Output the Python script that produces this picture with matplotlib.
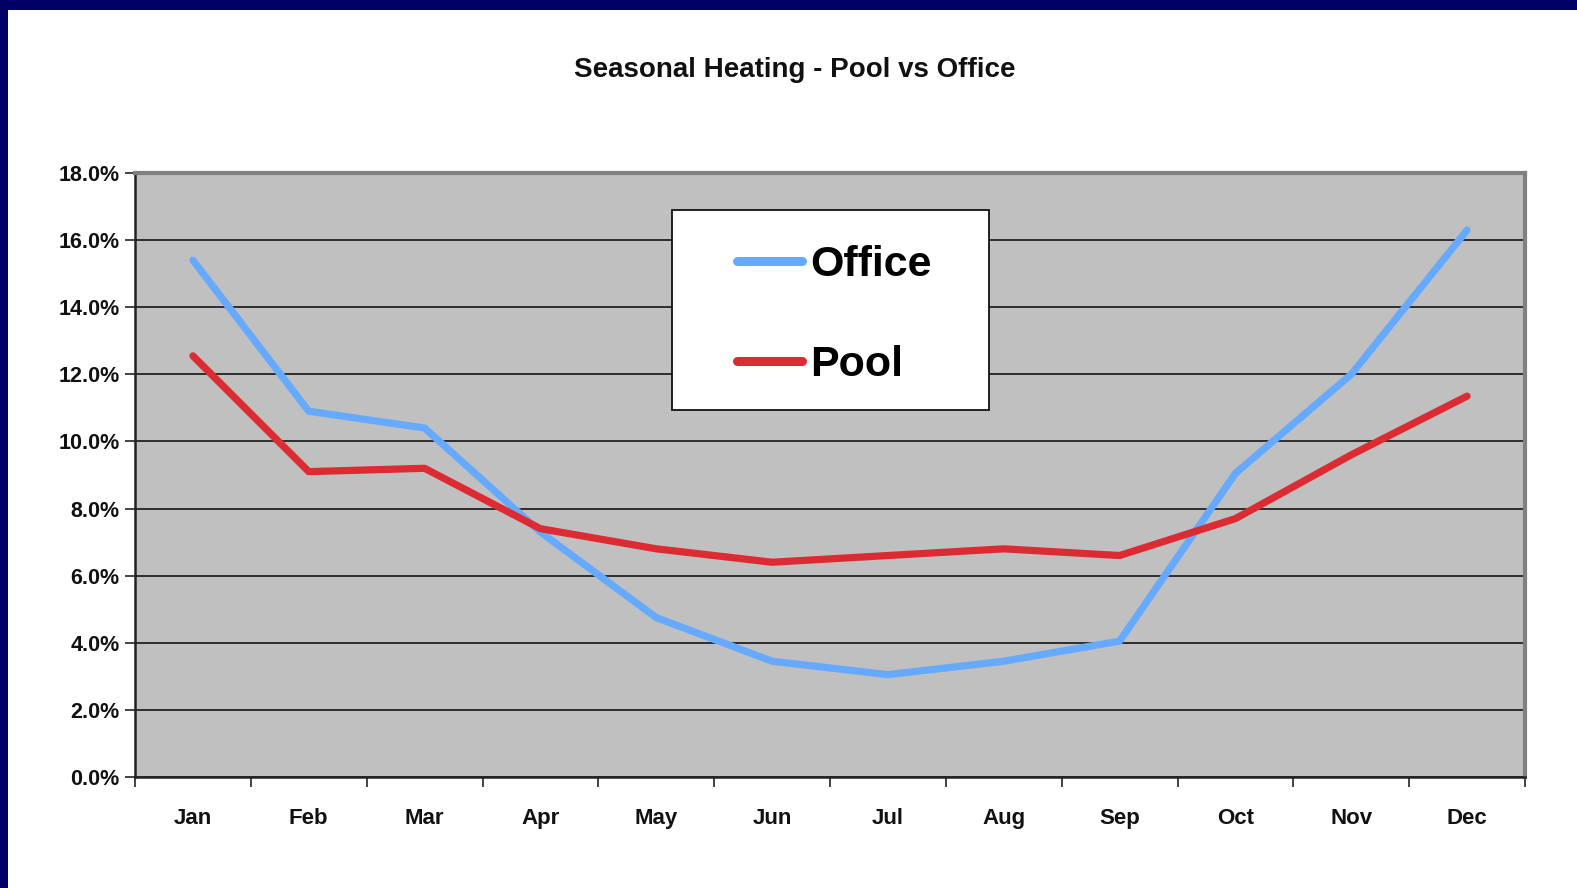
import matplotlib
matplotlib.use("Agg")
import matplotlib.pyplot as plt
from matplotlib.patches import Rectangle
from matplotlib.ticker import FixedLocator, NullFormatter, FuncFormatter
import numpy as np

months = ["Jan", "Feb", "Mar", "Apr", "May", "Jun", "Jul", "Aug", "Sep", "Oct", "Nov", "Dec"]
office = [15.4, 10.9, 10.4, 7.3, 4.75, 3.45, 3.05, 3.45, 4.05, 9.05, 12.0, 16.3]
pool = [12.55, 9.1, 9.2, 7.4, 6.8, 6.4, 6.6, 6.8, 6.6, 7.7, 9.6, 11.35]
yticks = [0, 2, 4, 6, 8, 10, 12, 14, 16, 18]
title = "Seasonal Heating - Pool vs Office"

W, H = 1577, 888
fig = plt.figure(figsize=(W / 100, H / 100), dpi=100)
fig.patch.set_facecolor("white")

font = ["Liberation Sans", "DejaVu Sans"]

# navy frame (top and left)
navy = "#000066"
fig.patches.append(Rectangle((0, 1 - 10 / H), 1, 10 / H, transform=fig.transFigure,
                             facecolor=navy, edgecolor="none", zorder=0))
fig.patches.append(Rectangle((0, 0), 8 / W, 1, transform=fig.transFigure,
                             facecolor=navy, edgecolor="none", zorder=0))

ax_l, ax_r, ax_t, ax_b = 135, 1525, 173, 777
ax = fig.add_axes([ax_l / W, 1 - ax_b / H, (ax_r - ax_l) / W, (ax_b - ax_t) / H])
ax.set_facecolor("#C0C0C0")

x = np.arange(len(months))
ax.plot(x, office, color="#66AAFF", lw=5.2, solid_capstyle="round", solid_joinstyle="round",
        label="Office", zorder=3)
ax.plot(x, pool, color="#DD2B33", lw=5.2, solid_capstyle="round", solid_joinstyle="round",
        label="Pool", zorder=3)

ax.set_xlim(-0.5, len(months) - 0.5)
ax.set_ylim(0, 18)

# y ticks and grid
ax.set_yticks(yticks)
ax.yaxis.set_major_formatter(FuncFormatter(lambda v, p: f"{v:.1f}%"))
ax.grid(axis="y", color="#222222", lw=1.3, zorder=1)
ax.set_axisbelow(True)

# x ticks at boundaries, labels at centers
ax.xaxis.set_major_locator(FixedLocator(np.arange(-0.5, len(months), 1.0)))
ax.xaxis.set_major_formatter(NullFormatter())
ax.xaxis.set_minor_locator(FixedLocator(x))
ax.set_xticklabels(months, minor=True)
ax.tick_params(axis="x", which="major", length=7, width=1.2, color="#222222", direction="out")
ax.tick_params(axis="x", which="minor", length=0, pad=22)
ax.tick_params(axis="y", length=7, width=1.2, color="#222222", pad=4)
for lab in ax.get_xticklabels(minor=True):
    lab.set_fontfamily(font)
    lab.set_fontweight("bold")
    lab.set_fontsize(16)
    lab.set_color("#111111")
for lab in ax.get_yticklabels():
    lab.set_fontfamily(font)
    lab.set_fontweight("bold")
    lab.set_fontsize(15.5)
    lab.set_color("#111111")

for side in ["left", "bottom"]:
    ax.spines[side].set_color("#222222")
    ax.spines[side].set_linewidth(1.8)
for side in ["top", "right"]:
    ax.spines[side].set_color("#808080")
    ax.spines[side].set_linewidth(3)

# title
fig.text(795 / W, 1 - 70 / H, title, ha="center", va="center", fontsize=20,
         fontweight="bold", family=font, color="#111111")

# legend box
lx0, lx1, ly0, ly1 = 672, 989, 210, 410
ax.add_patch(Rectangle((lx0 / W, 1 - ly1 / H), (lx1 - lx0) / W, (ly1 - ly0) / H,
                       transform=fig.transFigure, facecolor="white", edgecolor="#111111",
                       lw=1.3, zorder=4))
leg = ax.legend(loc="center", bbox_to_anchor=((lx0 + lx1) / 2 / W + 4 / W, 1 - 315 / H),
                bbox_transform=fig.transFigure, frameon=False,
                prop={"family": font, "weight": "bold", "size": 31},
                handlelength=1.5, handletextpad=0.2, labelspacing=1.38, borderpad=0)
leg.set_zorder(5)
for h in leg.get_lines():
    h.set_linewidth(6.5)
    h.set_solid_capstyle("round")

fig.savefig("out.png", dpi=100, facecolor="white")
